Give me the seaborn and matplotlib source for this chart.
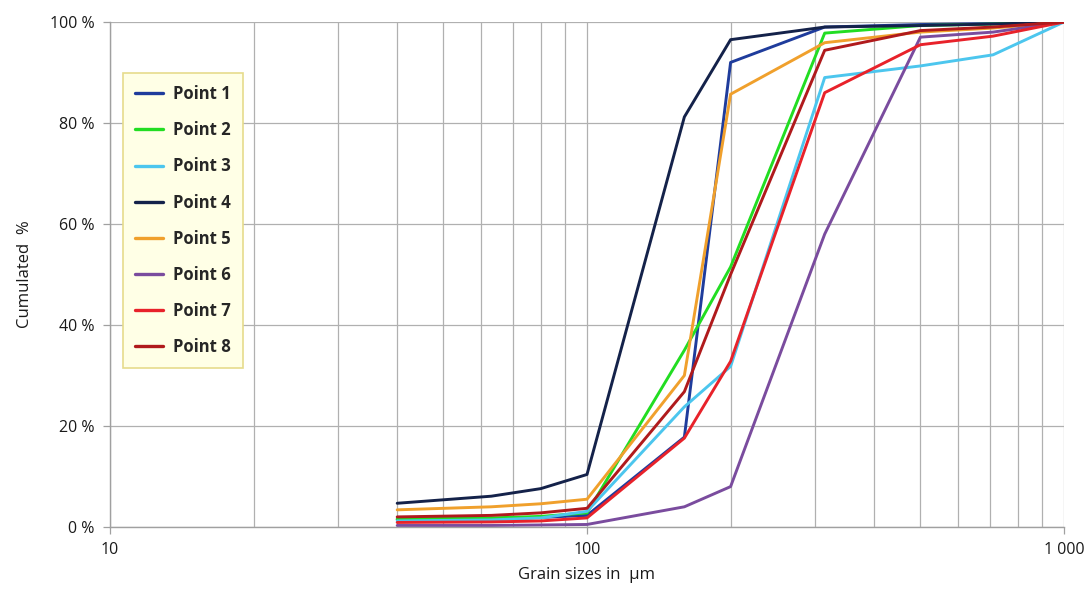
import matplotlib
matplotlib.use("Agg")
import matplotlib.pyplot as plt
import matplotlib.ticker as mticker
import numpy as np
import pandas as pd
import seaborn as sns

# Sieve opening sizes (µm)
sizes = [40, 63, 80, 100, 160, 200, 315, 500, 710, 1000]

# Cumulated passing (%) for each sampling point
point1 = [1.5, 1.6, 1.9, 2.3, 17.8, 92.0, 99.0, 99.5, 99.7, 100]
point2 = [1.6, 1.8, 2.1, 2.8, 35.0, 51.5, 97.8, 99.3, 99.6, 100]
point3 = [1.2, 1.4, 1.8, 3.1, 23.8, 31.8, 89.0, 91.3, 93.5, 100]
point4 = [4.7, 6.1, 7.6, 10.4, 81.2, 96.5, 99.0, 99.3, 99.6, 100]
point5 = [3.4, 4.0, 4.6, 5.5, 30.0, 85.7, 95.9, 98.0, 98.8, 100]
point6 = [0.3, 0.3, 0.4, 0.5, 4.0, 8.0, 58.0, 97.0, 98.0, 100]
point7 = [0.9, 1.0, 1.2, 1.8, 17.6, 32.8, 86.0, 95.5, 97.2, 100]
point8 = [2.0, 2.3, 2.8, 3.7, 26.8, 50.0, 94.4, 98.3, 99.0, 100]

series_names = ["Point 1", "Point 2", "Point 3", "Point 4",
                "Point 5", "Point 6", "Point 7", "Point 8"]
series_values = [point1, point2, point3, point4, point5, point6, point7, point8]
colors = ["#1f3c9c", "#22dd22", "#4cc6ee", "#14224a",
          "#f0a02c", "#7a4c9e", "#e8222a", "#b01a1c"]

y_ticks = [0, 20, 40, 60, 80, 100]
y_tick_labels = ["0 %", "20 %", "40 %", "60 %", "80 %", "100 %"]
x_ticks = [10, 100, 1000]
x_tick_labels = ["10", "100", "1 000"]

rows = []
for name, vals in zip(series_names, series_values):
    for s, v in zip(sizes, vals):
        rows.append({"size": s, "pct": v, "Point": name})
df = pd.DataFrame(rows)

sns.set_theme(style="white")
plt.rcParams["font.family"] = ["Open Sans", "DejaVu Sans"]

fig = plt.figure(figsize=(10.91, 5.89), dpi=100)
ax = fig.add_axes([110 / 1091, 1 - 527 / 589, 954 / 1091, 505 / 589])

sns.lineplot(data=df, x="size", y="pct", hue="Point",
             palette=dict(zip(series_names, colors)),
             linewidth=2.1, sort=False, ax=ax, legend=True)

ax.set_xscale("log")
ax.set_xlim(10, 1000)
ax.set_ylim(0, 100)

ax.xaxis.set_major_locator(mticker.FixedLocator(x_ticks))
ax.xaxis.set_major_formatter(mticker.FixedFormatter(x_tick_labels))
ax.xaxis.set_minor_locator(mticker.LogLocator(base=10, subs=np.arange(2, 10)))
ax.xaxis.set_minor_formatter(mticker.NullFormatter())
ax.set_yticks(y_ticks)
ax.set_yticklabels(y_tick_labels)

grid_kw = dict(color="#b0b0b0", linewidth=0.9)
ax.grid(True, which="major", axis="both", **grid_kw)
ax.grid(True, which="minor", axis="x", **grid_kw)
ax.set_axisbelow(True)

for side in ["top", "right"]:
    ax.spines[side].set_visible(False)
for side in ["left", "bottom"]:
    ax.spines[side].set_color("#a0a0a0")
    ax.spines[side].set_linewidth(1.0)

ax.tick_params(axis="both", which="major", length=5, width=0.9,
               color="#a0a0a0", labelsize=11.5, labelcolor="#1a1a1a",
               direction="out", left=True, bottom=True)
ax.tick_params(axis="x", which="minor", length=0)
ax.tick_params(axis="y", pad=6)
ax.tick_params(axis="x", pad=6)

ax.set_xlabel("Grain sizes in  µm", fontsize=12, color="#1a1a1a", labelpad=6)
ax.set_ylabel("Cumulated  %", fontsize=12, color="#1a1a1a", labelpad=12)

leg = ax.legend(loc="upper left", bbox_to_anchor=(0.0136, 0.899),
                borderaxespad=0, frameon=True, fancybox=False,
                handlelength=1.7, handletextpad=0.6, labelspacing=1.09,
                borderpad=0.72,
                prop={"size": 12, "weight": "bold"})
frame = leg.get_frame()
frame.set_facecolor("#ffffe6")
frame.set_edgecolor("#e6dc8c")
frame.set_linewidth(1.2)
frame.set_alpha(1)
for line in leg.get_lines():
    line.set_linewidth(2.4)

fig.savefig("out.png", dpi=100)
